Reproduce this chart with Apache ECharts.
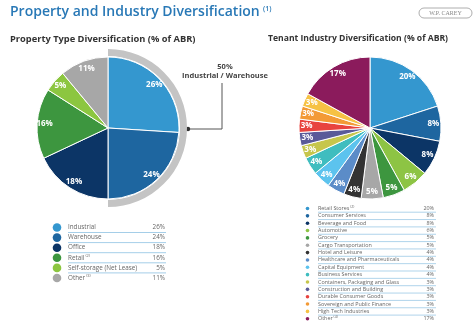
<!DOCTYPE html>
<html><head><meta charset="utf-8">
<script src="https://cdn.jsdelivr.net/npm/echarts@6/dist/echarts.min.js"></script>
<style>html,body{margin:0;padding:0;background:#fff}#c{width:474px;height:322px}</style>
</head><body><div id="c"></div>
<script>
var propNames = ['Industrial','Warehouse','Office','Retail','Self-storage (Net Lease)','Other'];
var propSup = ['','','','(2)','','(3)'];
var propValues = [26,24,18,16,5,11];
var propColors = ['#3497cf','#1e66a0','#0c3566','#3d963f','#8cc640','#a7a7a7'];

var indNames = ['Retail Stores','Consumer Services','Beverage and Food','Automotive','Grocery','Cargo Transportation','Hotel and Leisure','Healthcare and Pharmaceuticals','Capital Equipment','Business Services','Containers, Packaging and Glass','Construction and Building','Durable Consumer Goods','Sovereign and Public Finance','High Tech Industries','Other'];
var indSup = ['(2)','','','','','','','','','','','','','','','(4)'];
var indValues = [20,8,8,6,5,5,4,4,4,4,3,3,3,3,3,17];
var indColors = ['#3497cf','#1e66a0','#0c3566','#8dc444','#3d963f','#a7a7a7','#333333','#5b8cc8','#5cc3ee','#3fbdbf','#c6c64c','#5a5a99','#e8433f','#f39a36','#f6c244','#8b1b5c'];

var FONT = '"Open Sans", "DejaVu Sans", sans-serif';
var chart = echarts.init(document.getElementById('c'));

function pieData(names, vals, colors){
  return vals.map(function(v,i){return {name:names[i], value:v, itemStyle:{color:colors[i]}};});
}
function labelData(names, vals){
  return vals.map(function(v,i){return {name:names[i], value:v};});
}

var graphics = [];
// title
graphics.push({type:'text', left:10, top:5, style:{text:'{t|Property and Industry Diversification} {s|(1)}', rich:{t:{fontSize:14, fontFamily:FONT, fontWeight:600, fill:'#2878b6'}, s:{fontSize:7, fontFamily:FONT, fontWeight:600, fill:'#2878b6', verticalAlign:'top', padding:[0,0,7,0]}}}});
// logo
graphics.push({type:'rect', shape:{x:419, y:8, width:53, height:10, r:5}, style:{fill:'none', stroke:'#999', lineWidth:0.8}});
graphics.push({type:'text', x:445.5, y:13, style:{text:'W.P. CAREY', fontSize:6, fontFamily:'"Liberation Serif", serif', fill:'#888', align:'center', verticalAlign:'middle'}});
// subtitles
graphics.push({type:'text', x:10, y:39, style:{text:'Property Type Diversification (% of ABR)', fontSize:9.3, fontWeight:'bold', fontFamily:FONT, fill:'#333', verticalAlign:'middle'}});
graphics.push({type:'text', x:268, y:39, style:{text:'Tenant Industry Diversification (% of ABR)', fontSize:8.6, fontWeight:'bold', fontFamily:FONT, fill:'#333', verticalAlign:'middle'}});
// leader annotation
graphics.push({type:'polyline', shape:{points:[[188,129],[222,129],[222,83]]}, style:{stroke:'#555', lineWidth:1, fill:'none'}});
graphics.push({type:'circle', shape:{cx:188, cy:129, r:2.2}, style:{fill:'#333'}});
graphics.push({type:'text', x:225, y:67, style:{text:'50%', fontSize:7.5, fontWeight:'bold', fontFamily:FONT, fill:'#444', align:'center', verticalAlign:'middle'}});
graphics.push({type:'text', x:225, y:76, style:{text:'Industrial / Warehouse', fontSize:7.5, fontWeight:'bold', fontFamily:FONT, fill:'#444', align:'center', verticalAlign:'middle'}});

// left legend
propNames.forEach(function(n,i){
  var y = 227.5 + 10.1*i;
  graphics.push({type:'circle', shape:{cx:57, cy:y, r:4.3}, style:{fill:propColors[i]}});
  graphics.push({type:'text', x:68, y:y, style:{text:'{a|'+n+'}'+(propSup[i]?'{s| '+propSup[i]+'}':''), rich:{a:{fontSize:6.3, fontFamily:FONT, fill:'#666'}, s:{fontSize:4, fontFamily:FONT, fill:'#666', verticalAlign:'top', padding:[0,0,4,0]}}, verticalAlign:'middle'}});
  graphics.push({type:'text', x:165, y:y, style:{text:propValues[i]+'%', fontSize:6.3, fontFamily:FONT, fill:'#666', align:'right', verticalAlign:'middle'}});
  if (i < propNames.length-1) graphics.push({type:'line', shape:{x1:68, y1:y+5, x2:166, y2:y+5}, style:{stroke:'#8ec2e2', lineWidth:0.8}});
});
// right legend
indNames.forEach(function(n,i){
  var y = 208.5 + 7.35*i;
  graphics.push({type:'circle', shape:{cx:307.5, cy:y, r:1.8}, style:{fill:indColors[i]}});
  graphics.push({type:'text', x:318, y:y, style:{text:'{a|'+n+'}'+(indSup[i]?'{s| '+indSup[i]+'}':''), rich:{a:{fontSize:5.4, fontFamily:FONT, fill:'#666'}, s:{fontSize:3.6, fontFamily:FONT, fill:'#666', verticalAlign:'top', padding:[0,0,3,0]}}, verticalAlign:'middle'}});
  graphics.push({type:'text', x:434, y:y, style:{text:indValues[i]+'%', fontSize:5.4, fontFamily:FONT, fill:'#666', align:'right', verticalAlign:'middle'}});
  if (i < indNames.length-1) graphics.push({type:'line', shape:{x1:318, y1:y+3.7, x2:436, y2:y+3.7}, style:{stroke:'#8ec2e2', lineWidth:0.7}});
});

var labelStyle = {show:true, position:'inside', color:'#fff', fontSize:8, fontWeight:'bold', fontFamily:FONT, formatter:'{c}%'};
chart.setOption({
  animation:false,
  series:[
    {type:'pie', center:[108,128], radius:[72,79], startAngle:90, silent:true, label:{show:false}, labelLine:{show:false},
     data:[{value:50, itemStyle:{color:'#c4c4c4'}},{value:50, itemStyle:{color:'transparent'}}]},
    {type:'pie', center:[108,128], radius:[0,71], startAngle:90, label:{show:false}, labelLine:{show:false},
     itemStyle:{borderColor:'#fff', borderWidth:1}, data:pieData(propNames, propValues, propColors)},
    {type:'pie', center:[108,128], radius:[50,71], startAngle:90, silent:true, labelLine:{show:false},
     itemStyle:{color:'transparent'}, label:labelStyle, data:labelData(propNames, propValues)},
    {type:'pie', center:[370,128], radius:[0,71], startAngle:90, label:{show:false}, labelLine:{show:false},
     itemStyle:{borderColor:'#fff', borderWidth:1}, data:pieData(indNames, indValues, indColors)},
    {type:'pie', center:[370,128], radius:[50,71], startAngle:90, silent:true, labelLine:{show:false},
     itemStyle:{color:'transparent'}, label:labelStyle, data:labelData(indNames, indValues)}
  ],
  graphic:graphics
});
</script></body></html>
